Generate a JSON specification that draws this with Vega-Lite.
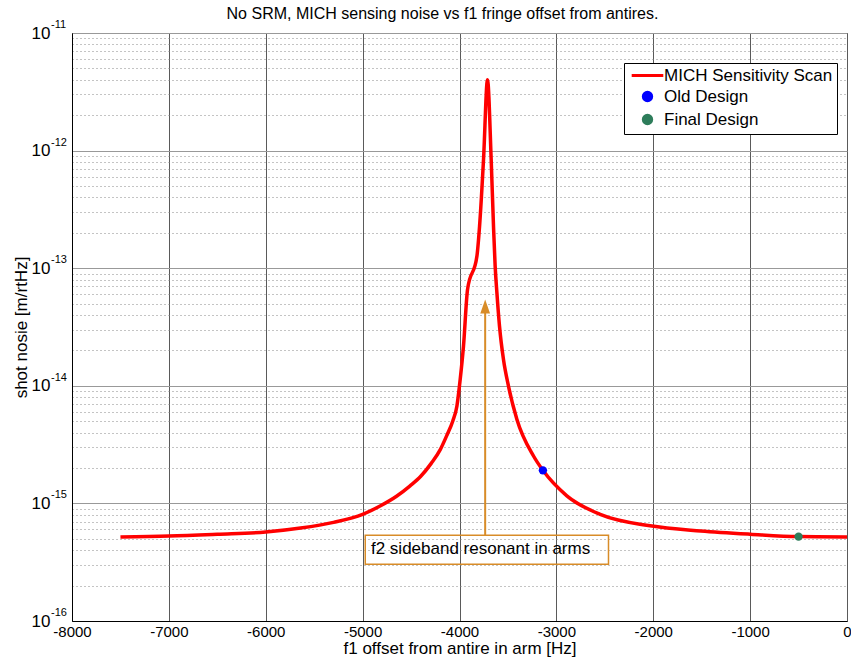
{
  "$schema": "https://vega.github.io/schema/vega-lite/v6.json",
  "width": 775,
  "height": 588,
  "autosize": "none",
  "padding": {"left": 72, "top": 33, "right": 4, "bottom": 45},
  "background": "white",
  "config": {
    "font": "Liberation Sans",
    "view": {"stroke": "black", "strokeWidth": 1},
    "axis": {
      "labelFont": "Liberation Sans",
      "labelFontSize": 15,
      "labelColor": "black",
      "titleFont": "Liberation Sans",
      "titleFontSize": 17,
      "titleFontWeight": "normal",
      "titleColor": "black",
      "domainColor": "black",
      "ticks": false
    }
  },
  "title": {
    "text": "No SRM, MICH sensing noise vs f1 fringe offset from antires.",
    "font": "Liberation Sans",
    "fontSize": 16,
    "fontWeight": "normal",
    "color": "black",
    "anchor": "middle",
    "frame": "group",
    "offset": 0,
    "dy": 3,
    "dx": -17
  },
  "datasets": {
    "curve": [
      {"f": -7500, "noise": 5.19e-16, "series": "MICH Sensitivity Scan"},
      {"f": -7000, "noise": 5.28e-16, "series": "MICH Sensitivity Scan"},
      {"f": -6500, "noise": 5.47e-16, "series": "MICH Sensitivity Scan"},
      {"f": -6000, "noise": 5.71e-16, "series": "MICH Sensitivity Scan"},
      {"f": -5640, "noise": 6.17e-16, "series": "MICH Sensitivity Scan"},
      {"f": -5300, "noise": 6.9e-16, "series": "MICH Sensitivity Scan"},
      {"f": -5000, "noise": 8.07e-16, "series": "MICH Sensitivity Scan"},
      {"f": -4820, "noise": 9.5e-16, "series": "MICH Sensitivity Scan"},
      {"f": -4650, "noise": 1.15e-15, "series": "MICH Sensitivity Scan"},
      {"f": -4510, "noise": 1.41e-15, "series": "MICH Sensitivity Scan"},
      {"f": -4400, "noise": 1.7e-15, "series": "MICH Sensitivity Scan"},
      {"f": -4290, "noise": 2.2e-15, "series": "MICH Sensitivity Scan"},
      {"f": -4200, "noise": 2.85e-15, "series": "MICH Sensitivity Scan"},
      {"f": -4130, "noise": 3.8e-15, "series": "MICH Sensitivity Scan"},
      {"f": -4070, "noise": 5.0e-15, "series": "MICH Sensitivity Scan"},
      {"f": -4027, "noise": 6.7e-15, "series": "MICH Sensitivity Scan"},
      {"f": -3993, "noise": 1.13e-14, "series": "MICH Sensitivity Scan"},
      {"f": -3959, "noise": 2.17e-14, "series": "MICH Sensitivity Scan"},
      {"f": -3917, "noise": 6.59e-14, "series": "MICH Sensitivity Scan"},
      {"f": -3820, "noise": 1.27e-13, "series": "MICH Sensitivity Scan"},
      {"f": -3793, "noise": 2.27e-13, "series": "MICH Sensitivity Scan"},
      {"f": -3752, "noise": 8.4e-13, "series": "MICH Sensitivity Scan"},
      {"f": -3711, "noise": 4.0e-12, "series": "MICH Sensitivity Scan"},
      {"f": -3673, "noise": 8.4e-13, "series": "MICH Sensitivity Scan"},
      {"f": -3649, "noise": 2.27e-13, "series": "MICH Sensitivity Scan"},
      {"f": -3632, "noise": 1.04e-13, "series": "MICH Sensitivity Scan"},
      {"f": -3614, "noise": 6.2e-14, "series": "MICH Sensitivity Scan"},
      {"f": -3587, "noise": 3.21e-14, "series": "MICH Sensitivity Scan"},
      {"f": -3546, "noise": 1.67e-14, "series": "MICH Sensitivity Scan"},
      {"f": -3494, "noise": 9.9e-15, "series": "MICH Sensitivity Scan"},
      {"f": -3408, "noise": 5.2e-15, "series": "MICH Sensitivity Scan"},
      {"f": -3236, "noise": 2.53e-15, "series": "MICH Sensitivity Scan"},
      {"f": -3139, "noise": 1.91e-15, "series": "MICH Sensitivity Scan"},
      {"f": -2892, "noise": 1.16e-15, "series": "MICH Sensitivity Scan"},
      {"f": -2548, "noise": 8.07e-16, "series": "MICH Sensitivity Scan"},
      {"f": -2032, "noise": 6.45e-16, "series": "MICH Sensitivity Scan"},
      {"f": -1510, "noise": 5.83e-16, "series": "MICH Sensitivity Scan"},
      {"f": -1000, "noise": 5.47e-16, "series": "MICH Sensitivity Scan"},
      {"f": -500, "noise": 5.22e-16, "series": "MICH Sensitivity Scan"},
      {"f": 0, "noise": 5.19e-16, "series": "MICH Sensitivity Scan"}
    ],
    "designs": [
      {"f": -3139, "noise": 1.91e-15, "series": "Old Design"},
      {"f": -500, "noise": 5.22e-16, "series": "Final Design"}
    ],
    "exponents": [
      {"f": -8000, "noise": 1e-11, "exp": "-11"},
      {"f": -8000, "noise": 1e-12, "exp": "-12"},
      {"f": -8000, "noise": 1e-13, "exp": "-13"},
      {"f": -8000, "noise": 1e-14, "exp": "-14"},
      {"f": -8000, "noise": 1e-15, "exp": "-15"},
      {"f": -8000, "noise": 1e-16, "exp": "-16"}
    ],
    "arrow": [
      {"f": -3735, "top": 4.6e-14, "bottom": 5.36e-16, "head": 4.73e-14}
    ],
    "box": [
      {"f1": -4973, "f2": -2462, "ytop": 5.36e-16, "ybot": 3.04e-16, "tf": -4914, "ty": 4.13e-16, "label": "f2 sideband resonant in arms"}
    ]
  },
  "layer": [
    {
      "data": {"name": "curve"},
      "mark": {"type": "line", "strokeWidth": 3.5, "clip": true, "interpolate": "monotone"},
      "encoding": {
        "x": {
          "field": "f", "type": "quantitative",
          "scale": {"domain": [-8000, 0], "nice": false, "zero": false},
          "axis": {
            "title": "f1 offset from antire in arm [Hz]",
            "values": [-8000, -7000, -6000, -5000, -4000, -3000, -2000, -1000, 0],
            "labelExpr": "'' + datum.value",
            "labelFlush": false,
            "labelPadding": 3,
            "gridColor": "#5a5a5a",
            "gridWidth": 1,
            "titleY": 27,
            "titleBaseline": "middle"
          }
        },
        "y": {
          "field": "noise", "type": "quantitative",
          "scale": {"type": "log", "domain": [1e-16, 1e-11], "nice": false},
          "axis": {
            "title": "shot nosie [m/rtHz]",
            "titleX": -51,
            "titleY": 294,
            "titleAngle": -90,
            "titleAlign": "center",
            "titleBaseline": "middle",
            "labelPadding": 22,
            "labelFontSize": 17,
            "values": [1e-16, 2e-16, 3e-16, 4e-16, 5e-16, 6e-16, 7e-16, 8e-16, 9e-16,
                       1e-15, 2e-15, 3e-15, 4e-15, 5e-15, 6e-15, 7e-15, 8e-15, 9e-15,
                       1e-14, 2e-14, 3e-14, 4e-14, 5e-14, 6e-14, 7e-14, 8e-14, 9e-14,
                       1e-13, 2e-13, 3e-13, 4e-13, 5e-13, 6e-13, 7e-13, 8e-13, 9e-13,
                       1e-12, 2e-12, 3e-12, 4e-12, 5e-12, 6e-12, 7e-12, 8e-12, 9e-12, 1e-11],
            "labelExpr": "abs(log(datum.value)/LN10 - round(log(datum.value)/LN10)) > 0.001 ? '' : '10'",
            "gridDash": {"condition": {"test": "abs(log(datum.value)/LN10 - round(log(datum.value)/LN10)) < 0.001", "value": []}, "value": [1, 3]},
            "gridColor": {"condition": {"test": "abs(log(datum.value)/LN10 - round(log(datum.value)/LN10)) < 0.001", "value": "#999999"}, "value": "#888888"},
            "gridWidth": 1
          }
        },
        "color": {
          "field": "series", "type": "nominal",
          "scale": {"domain": ["MICH Sensitivity Scan", "Old Design", "Final Design"], "range": ["#ff0000", "#0000ff", "#2e7d5b"]},
          "legend": {
            "title": null,
            "orient": "none",
            "legendX": 552,
            "legendY": 30,
            "direction": "vertical",
            "fillColor": "white",
            "strokeColor": "black",
            "padding": 4,
            "labelFontSize": 17,
            "labelFont": "Liberation Sans",
            "labelColor": "black",
            "labelLimit": 400,
            "labelOffset": 8,
            "symbolOffset": 11,
            "symbolSize": 900,
            "rowPadding": 2,
            "encode": {
              "symbols": {
                "update": {
                  "shape": {"signal": "datum.value === 'MICH Sensitivity Scan' ? 'stroke' : 'circle'"},
                  "size": {"signal": "datum.value === 'MICH Sensitivity Scan' ? 1000 : 70"},
                  "fill": {"signal": "datum.value === 'Old Design' ? '#0000ff' : datum.value === 'Final Design' ? '#2e7d5b' : 'transparent'"},
                  "stroke": {"signal": "datum.value === 'MICH Sensitivity Scan' ? '#ff0000' : 'transparent'"},
                  "strokeWidth": {"value": 3},
                  "opacity": {"value": 1}
                }
              }
            }
          }
        }
      }
    },
    {
      "data": {"name": "designs"},
      "mark": {"type": "point", "filled": true, "size": 70, "opacity": 1, "shape": "circle"},
      "encoding": {
        "x": {"field": "f", "type": "quantitative"},
        "y": {"field": "noise", "type": "quantitative"},
        "color": {"field": "series", "type": "nominal"}
      }
    },
    {
      "data": {"name": "exponents"},
      "mark": {"type": "text", "align": "left", "baseline": "middle", "fontSize": 11, "font": "Liberation Sans", "color": "black", "dx": -21, "dy": -8},
      "encoding": {
        "x": {"field": "f", "type": "quantitative"},
        "y": {"field": "noise", "type": "quantitative"},
        "text": {"field": "exp"}
      }
    },
    {
      "data": {"name": "arrow"},
      "mark": {"type": "rule", "color": "#d88c28", "strokeWidth": 2},
      "encoding": {
        "x": {"field": "f", "type": "quantitative"},
        "y": {"field": "top", "type": "quantitative"},
        "y2": {"field": "bottom"}
      }
    },
    {
      "data": {"name": "arrow"},
      "mark": {"type": "point", "filled": true, "opacity": 1, "color": "#d88c28", "shape": "M-0.7,1L0,-1L0.7,1Z", "size": 196},
      "encoding": {
        "x": {"field": "f", "type": "quantitative"},
        "y": {"field": "head", "type": "quantitative"}
      }
    },
    {
      "data": {"name": "box"},
      "mark": {"type": "rect", "fill": null, "fillOpacity": 0, "stroke": "#d88c28", "strokeWidth": 1.5},
      "encoding": {
        "x": {"field": "f1", "type": "quantitative"},
        "x2": {"field": "f2"},
        "y": {"field": "ytop", "type": "quantitative"},
        "y2": {"field": "ybot"}
      }
    },
    {
      "data": {"name": "box"},
      "mark": {"type": "text", "align": "left", "baseline": "middle", "fontSize": 17, "font": "Liberation Sans", "color": "black"},
      "encoding": {
        "x": {"field": "tf", "type": "quantitative"},
        "y": {"field": "ty", "type": "quantitative"},
        "text": {"field": "label"}
      }
    }
  ]
}
